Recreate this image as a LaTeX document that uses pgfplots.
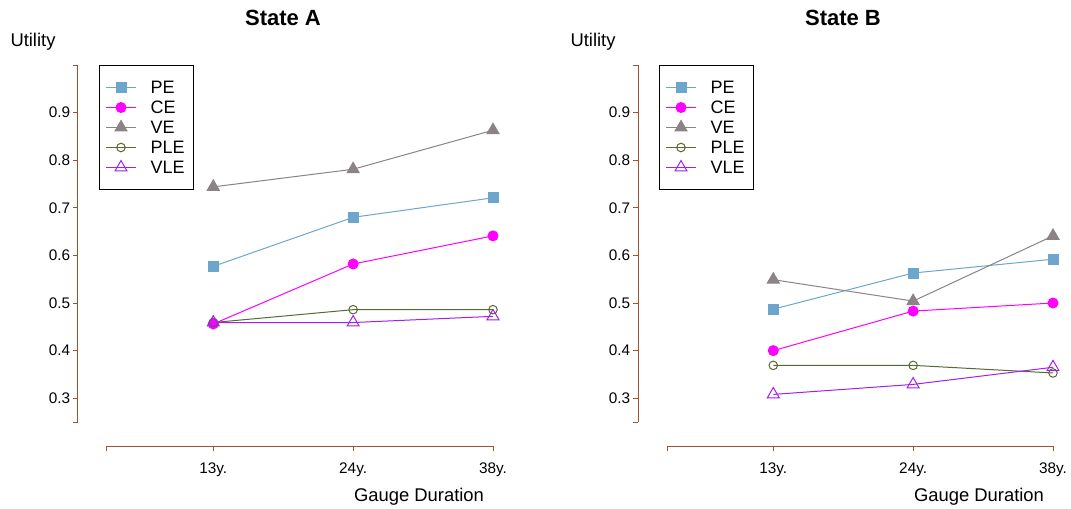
\documentclass[border=0pt]{standalone}
\usepackage{fontspec}
\setmainfont{Liberation Sans}
\usepackage{pgfplots}
\pgfplotsset{compat=1.18}
\definecolor{cPE}{HTML}{6CA6CD}
\definecolor{cCE}{HTML}{FF00FF}
\definecolor{cVE}{HTML}{8B8386}
\definecolor{cPLE}{HTML}{556B2F}
\definecolor{cVLE}{HTML}{A020F0}
\definecolor{axc}{HTML}{A0522D}
\pgfplotsset{
  panel/.style={
    scale only axis, width=289.5pt, height=267.75pt,
    xmin=0.24, xmax=3, ymin=0.25, ymax=1.0,
    axis lines*=left, axis x line shift=18pt, axis y line shift=21.75pt,
    axis line style={color=axc, line width=0.75pt},
    xtick={0.24,1,2,3}, xticklabels={,13y.,24y.,38y.},
    ytick={0.25,0.3,0.4,0.5,0.6,0.7,0.8,0.9,1.0},
    yticklabels={,0.3,0.4,0.5,0.6,0.7,0.8,0.9,},
    tick align=outside, major tick length=3.75pt,
    tick style={color=axc, line width=0.75pt},
    every tick label/.append style={font=\fontsize{11.5}{13}\selectfont, text=black},
    yticklabel style={inner sep=2pt},
    xticklabel style={yshift=-5pt},
    /pgf/number format/assume math mode=true,
    clip=false,
    legend cell align=left,
    legend style={at={(axis description cs:-0.0207,1)}, anchor=north west,
      draw=black, line width=0.75pt, inner xsep=4.5pt, inner ysep=9pt,
      column sep=8.5pt, row sep=0pt,
      font=\fontsize{13.5}{15}\selectfont,
      nodes={inner xsep=2pt, inner ysep=0pt, text height=12.3pt, text depth=2.7pt}},
    legend image code/.code={\draw[mark repeat=2,mark phase=2,##1] plot coordinates {(0pt,0pt) (11.25pt,0pt) (22.5pt,0pt)};},
  },
  sPE/.style={color=cPE, line width=0.75pt, mark=square*, mark size=3.75pt},
  sCE/.style={color=cCE, line width=0.75pt, mark=*, mark size=3.75pt},
  sVE/.style={color=cVE, line width=0.75pt, mark=triangle*, mark size=5.2pt},
  sPLE/.style={color=cPLE, line width=0.75pt, mark=o, mark size=3.2pt},
  sVLE/.style={color=cVLE, line width=0.75pt, mark=triangle, mark size=5.2pt},
}
\begin{document}
\begin{tikzpicture}
\useasboundingbox (0,0) rectangle (803.25pt,-381pt);
\begin{axis}[panel, at={(80.25pt,-316.5pt)}, anchor=south west]
\addplot[sPE] coordinates {(1,0.577)(2,0.680)(3,0.721)};
\addplot[sCE] coordinates {(1,0.456)(2,0.582)(3,0.641)};
\addplot[sVE] coordinates {(1,0.744)(2,0.781)(3,0.863)};
\addplot[sPLE] coordinates {(1,0.459)(2,0.486)(3,0.486)};
\addplot[sVLE] coordinates {(1,0.459)(2,0.459)(3,0.472)};
\legend{PE,CE,VE,PLE,VLE}
\end{axis}
\begin{axis}[panel, at={(500.25pt,-316.5pt)}, anchor=south west]
\addplot[sPE] coordinates {(1,0.487)(2,0.563)(3,0.592)};
\addplot[sCE] coordinates {(1,0.400)(2,0.483)(3,0.500)};
\addplot[sVE] coordinates {(1,0.549)(2,0.504)(3,0.641)};
\addplot[sPLE] coordinates {(1,0.369)(2,0.369)(3,0.353)};
\addplot[sVLE] coordinates {(1,0.308)(2,0.329)(3,0.365)};
\legend{PE,CE,VE,PLE,VLE}
\end{axis}
\begin{scope}[x=0.75pt,y=-0.75pt]
\node[font=\fontsize{16.5}{18}\selectfont\bfseries] at (283,18) {State A};
\node[font=\fontsize{16.5}{18}\selectfont\bfseries] at (843,18) {State B};
\node[font=\fontsize{13.8}{15}\selectfont] at (33,42) {Utility};
\node[font=\fontsize{13.8}{15}\selectfont] at (593,42) {Utility};
\node[font=\fontsize{13.8}{15}\selectfont] at (419,497) {Gauge Duration};
\node[font=\fontsize{13.8}{15}\selectfont] at (979,497) {Gauge Duration};
\end{scope}
\end{tikzpicture}
\end{document}
